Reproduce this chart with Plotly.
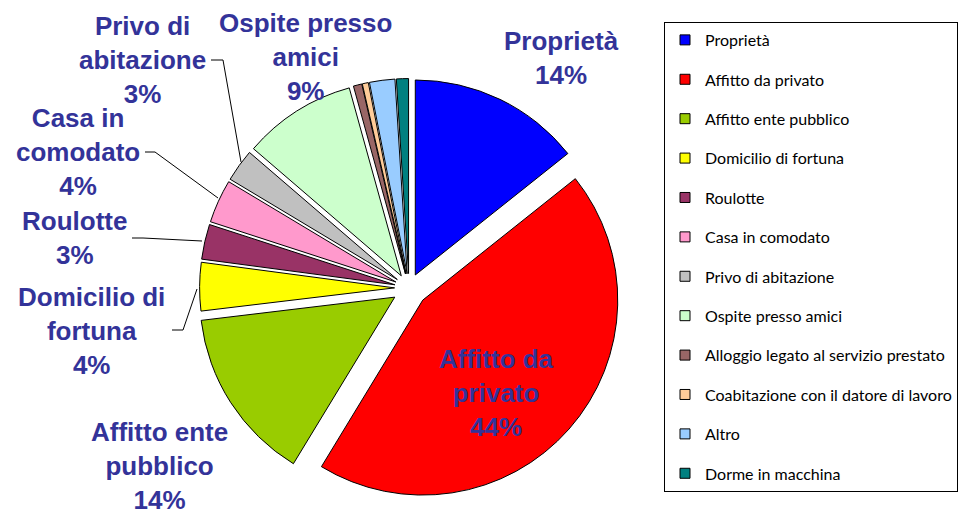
"""Grafico a torta: condizione abitativa (percentuali)."""
import plotly.graph_objects as go

# dati
categorie = [
    "Proprietà", "Affitto da privato", "Affitto ente pubblico", "Domicilio di fortuna",
    "Roulotte", "Casa in comodato", "Privo di abitazione", "Ospite presso amici",
    "Alloggio legato al servizio prestato", "Coabitazione con il datore di lavoro",
    "Altro", "Dorme in macchina",
]
valori = [14.3, 44.4, 14.4, 4.0, 2.9, 3.6, 2.7, 9.4, 0.7, 0.5, 2.1, 1.0]
etichette = [
    "Proprietà", "Affitto da<br>privato", "Affitto ente<br>pubblico", "Domicilio di<br>fortuna",
    "Roulotte", "Casa in<br>comodato", "Privo di<br>abitazione", "Ospite presso<br>amici",
]
colori = [
    "#0000FF", "#FF0000", "#99CC00", "#FFFF00", "#993366", "#FF99CC",
    "#C0C0C0", "#CCFFCC", "#996666", "#FFCC99", "#99CCFF", "#008080",
]

W, H = 969, 514
OFF = 8  # margine del body nella pagina
# centro (pixel) di ogni etichetta e linee guida
pos_etichette = [(561, 58), (496, 393), (159, 466), (91, 331),
                 (74, 238), (78, 152), (142, 60), (305, 57)]
guide = [
    [(211, 60), (223, 60), (241, 162)],
    [(145, 152), (155, 152), (218, 198)],
    [(132, 238), (143, 238), (202, 241)],
    [(172, 330), (183, 330), (197, 289)],
]


def px(x, y):
    return (x - OFF) / W, 1 - (y - OFF) / H


pull = [0.074, 0.094, 0.087, 0.074, 0.074, 0.074, 0.074, 0.074, 0.074, 0.074, 0.074, 0.074]

fig = go.Figure()
fig.add_trace(go.Pie(
    labels=categorie, values=valori, textinfo="none",
    sort=False, direction="clockwise", rotation=0,
    pull=pull, showlegend=False, hoverinfo="label+percent",
    marker=dict(colors=colori, line=dict(color="black", width=1)),
    domain=dict(x=[0.1937, 0.634], y=[0.0403, 0.8703]),
))

# voci di legenda (una per categoria, per avere la spaziatura verticale)
for nome, col in zip(categorie, colori):
    fig.add_trace(go.Scatter(
        x=[None], y=[None], mode="markers", name=nome, legendgroup=nome,
        marker=dict(symbol="square", size=10, color=col, line=dict(color="black", width=1)),
    ))

totale = sum(valori)
for (lx, ly), testo, v in zip(pos_etichette, etichette, valori):
    x, y = px(lx, ly)
    fig.add_annotation(
        x=x, y=y, xref="paper", yref="paper", showarrow=False,
        xanchor="center", yanchor="middle",
        text=f"{testo}<br>{round(v / totale * 100)}%", align="center",
        font=dict(family="Liberation Sans", size=26, color="#333399", weight="bold"),
    )

for g in guide:
    path = "M " + " L ".join(f"{px(a, b)[0]},{px(a, b)[1]}" for a, b in g)
    fig.add_shape(type="path", path=path, xref="paper", yref="paper",
                  line=dict(color="black", width=1))

fig.update_layout(
    width=W, height=H,
    margin=dict(l=0, r=0, t=0, b=0),
    paper_bgcolor="white", plot_bgcolor="white",
    xaxis=dict(visible=False), yaxis=dict(visible=False),
    legend=dict(
        x=0.677, y=0.9728, xanchor="left", yanchor="top",
        traceorder="grouped", tracegroupgap=15.6,
        bordercolor="black", borderwidth=1, bgcolor="white",
        font=dict(family="Lato", size=16, color="black"),
    ),
)
fig.write_html("out.html")
